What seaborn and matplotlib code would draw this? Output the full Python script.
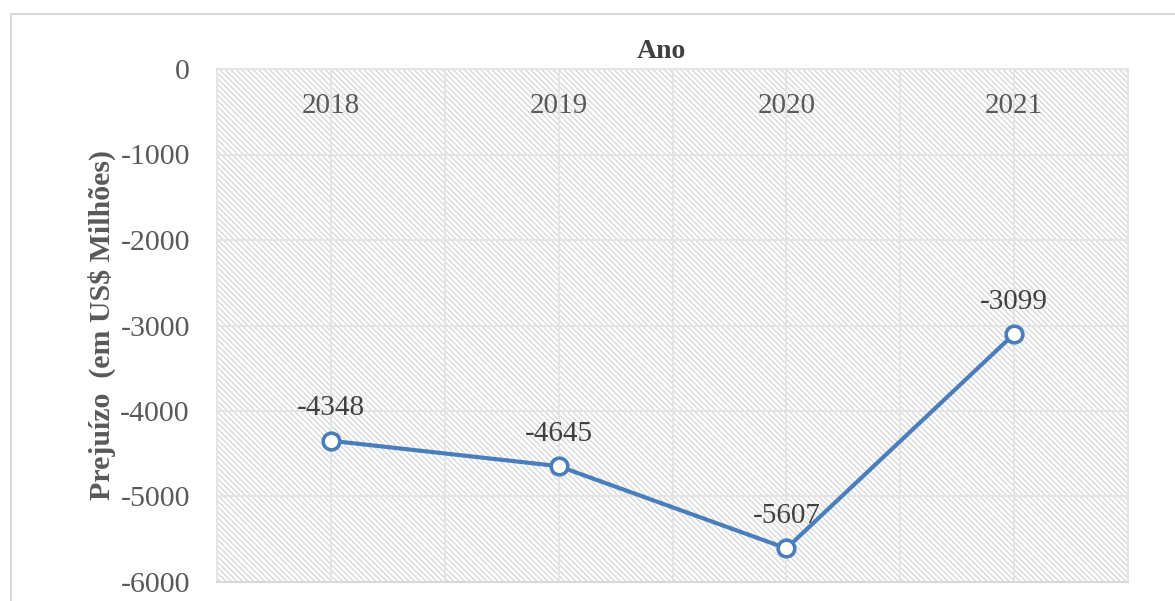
import matplotlib
matplotlib.use("Agg")
import matplotlib.pyplot as plt
import matplotlib.patches as mpatches
import seaborn as sns
import pandas as pd

years = ["2018", "2019", "2020", "2021"]
prejuizo = [-4348, -4645, -5607, -3099]
y_ticks = [0, -1000, -2000, -3000, -4000, -5000, -6000]

df = pd.DataFrame({"Ano": years, "Prejuizo": prejuizo})

sns.set_theme(style="white")
plt.rcParams["font.family"] = ["Liberation Serif", "DejaVu Serif"]
plt.rcParams["hatch.linewidth"] = 0.9
plt.rcParams["hatch.color"] = "#d6d6d6"

W, H = 1175, 601
fig = plt.figure(figsize=(W / 100, H / 100), dpi=100)
ax = fig.add_axes([217 / W, 1 - 582 / H, (1128 - 217) / W, (582 - 69) / H])

# outer chart border
fig.patches.append(mpatches.Rectangle((11 / W, -0.1), 1.2, 1 - 14 / H + 0.1,
                                      transform=fig.transFigure, fill=False,
                                      edgecolor="#d9d9d9", linewidth=1.5, zorder=0))

# hatched plot-area background
ax.add_patch(mpatches.Rectangle((0, 0), 1, 1, transform=ax.transAxes,
                                facecolor="white", edgecolor="#d6d6d6",
                                hatch="\\\\\\\\\\\\", linewidth=0, zorder=0))

sns.lineplot(data=df, x="Ano", y="Prejuizo", ax=ax, color="#4a7ebb",
             linewidth=3.0, marker="o", markersize=12, markerfacecolor="white",
             markeredgecolor="#4a7ebb", markeredgewidth=2.6, zorder=5)

ax.set_xlim(-0.5, 3.5)
ax.set_ylim(-6000, 0)
ax.set_yticks(y_ticks)
ax.set_yticklabels([str(v) for v in y_ticks])
ax.set_xticks(range(len(years)))
ax.set_xticks([0.5, 1.5, 2.5], minor=True)

ax.grid(True, which="both", axis="x", color="#e3e3e3", linewidth=1.3, zorder=1)
ax.grid(True, which="major", axis="y", color="#e3e3e3", linewidth=1.3, zorder=1)
ax.set_axisbelow(True)

ax.tick_params(axis="x", which="both", bottom=False, top=False, labelbottom=False,
               labeltop=True, pad=-36, labelsize=21, labelcolor="#595959", length=0)
ax.tick_params(axis="y", length=0, pad=19.5, labelsize=21.5, labelcolor="#595959")

for s in ["top", "right", "left"]:
    ax.spines[s].set_color("#e3e3e3")
    ax.spines[s].set_linewidth(1.3)
ax.spines["bottom"].set_color("#d9d9d9")
ax.spines["bottom"].set_linewidth(1.5)

for i, v in enumerate(prejuizo):
    ax.annotate(str(v), (i, v), xytext=(0, 14), textcoords="offset points",
                ha="center", va="bottom", fontsize=21, color="#404040", zorder=6)

fig.text(661 / W, 1 - 52 / H, "Ano", fontsize=20, fontweight="bold",
         color="#404040", ha="center", va="center")
ax.set_xlabel("")
ax.set_ylabel("Prejuízo  (em US$ Milhões)", fontsize=21.5, fontweight="bold",
              color="#595959")
ax.yaxis.set_label_coords(-(217 - 116) / (1128 - 217), (582 - 325) / (582 - 69))

fig.savefig("out.png", dpi=100)
